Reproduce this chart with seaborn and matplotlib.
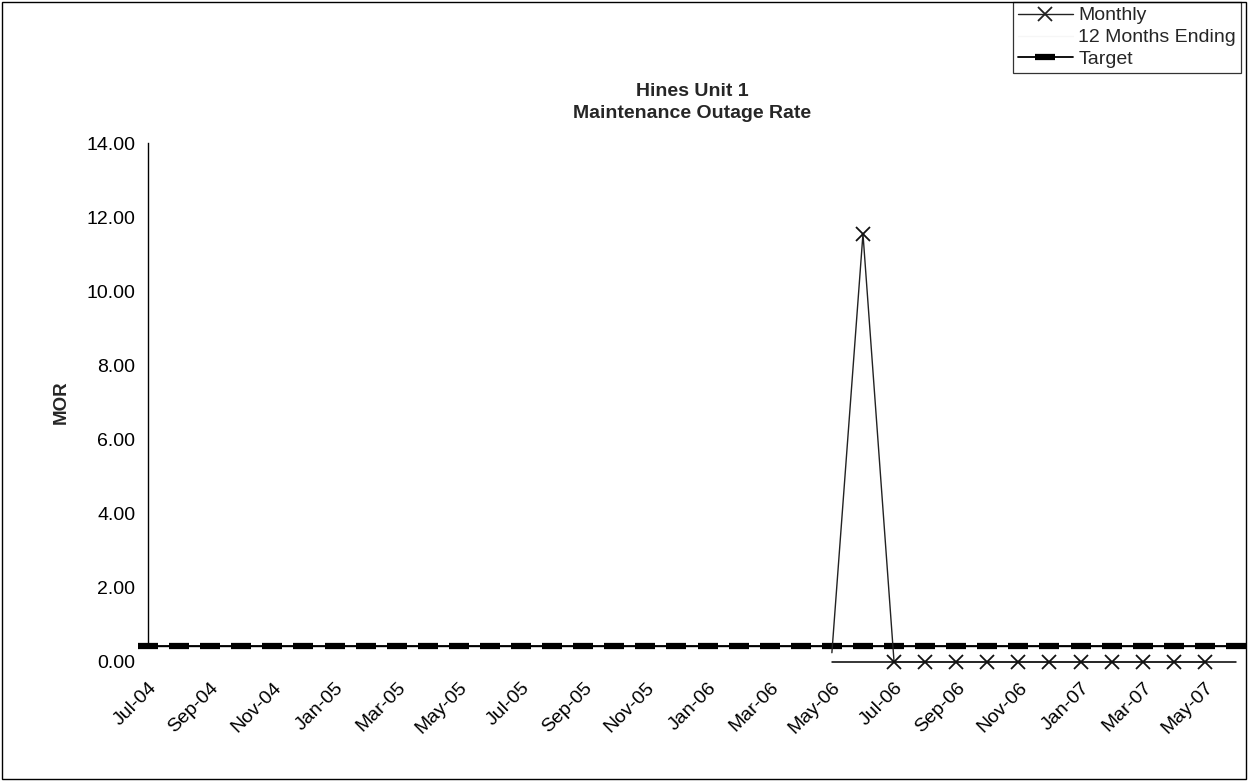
import numpy as np
import pandas as pd
import matplotlib
matplotlib.use('Agg')
import matplotlib.pyplot as plt
from matplotlib.lines import Line2D
from matplotlib.patches import Rectangle
import seaborn as sns

# month categories Jul-04 .. Jun-07
months = list(pd.date_range('2004-07-01', periods=36, freq='MS').strftime('%b-%y'))

# monthly MOR, May-06 .. May-07
monthly_months = ['May-06', 'Jun-06', 'Jul-06', 'Aug-06', 'Sep-06', 'Oct-06', 'Nov-06',
                  'Dec-06', 'Jan-07', 'Feb-07', 'Mar-07', 'Apr-07', 'May-07']
monthly_vals = [0.25, 11.55, 0.00, 0.00, 0.00, 0.00, 0.00, 0.00, 0.00, 0.00, 0.00, 0.00, 0.00]

# flat zero line under the monthly points, May-06 .. Jun-07
base_months = ['May-06', 'Jun-06', 'Jul-06', 'Aug-06', 'Sep-06', 'Oct-06', 'Nov-06',
               'Dec-06', 'Jan-07', 'Feb-07', 'Mar-07', 'Apr-07', 'May-07', 'Jun-07']
base_vals = [0.0] * len(base_months)

target_val = 0.44
target_vals = [target_val] * len(months)

yticks = [0, 2, 4, 6, 8, 10, 12, 14]

sns.set_style('white')
plt.rcParams['font.family'] = ['Liberation Sans', 'DejaVu Sans']

pos = {m: i for i, m in enumerate(months)}

fig = plt.figure(figsize=(12.48, 7.81), dpi=100)
ax = fig.add_axes([148 / 1248, 1 - 662 / 781, (1236 - 148) / 1248, (662 - 143) / 781])

# target line with dash markers
sns.lineplot(x=[pos[m] for m in months], y=target_vals, ax=ax, color='black', lw=1.3,
             marker='_', markersize=14, markeredgewidth=4.5, markeredgecolor='black',
             clip_on=False, zorder=3)

# zero line under monthly markers
sns.lineplot(x=[pos[m] for m in base_months], y=base_vals, ax=ax, color='black', lw=1.1,
             clip_on=False, zorder=2)

# monthly series
sns.lineplot(x=[pos[m] for m in monthly_months], y=monthly_vals, ax=ax, color='#222222', lw=1.0,
             marker='x', markersize=10, markeredgewidth=1.3, markeredgecolor='#111111',
             markevery=list(range(1, len(monthly_vals))), clip_on=False, zorder=4)

ax.set_xlim(0, len(months) - 1)
ax.set_ylim(0, 14)

for s in ['top', 'right']:
    ax.spines[s].set_visible(False)
ax.spines['bottom'].set_position(('data', target_val))
ax.spines['left'].set_bounds(target_val, 14)
for s in ['left', 'bottom']:
    ax.spines[s].set_color('black')
    ax.spines[s].set_linewidth(1.0)

ax.tick_params(axis='both', direction='inout', length=8, width=0.9, color='black',
               labelsize=14, labelcolor='black')
ax.tick_params(axis='y', pad=5)
ax.tick_params(axis='x', pad=20)

ax.set_yticks(yticks)
ax.set_yticklabels([f'{v:.2f}' for v in yticks])
ax.set_xticks(range(0, len(months), 2))
ax.set_xticklabels(months[::2])
plt.setp(ax.get_xticklabels(), rotation=45, ha='right', rotation_mode='anchor')
ax.yaxis.get_major_ticks()[0].tick1line.set_visible(False)

ax.set_ylabel('MOR', fontsize=13.5, fontweight='bold', labelpad=12)
ax.set_title('Hines Unit 1\nMaintenance Outage Rate', fontsize=14, fontweight='bold',
             pad=18, linespacing=1.4)

handles = [
    Line2D([], [], color='#222222', lw=1.0, marker='x', markersize=10, markeredgewidth=1.3),
    Line2D([], [], color='#f6f6f6', lw=1.0),
    Line2D([], [], color='black', lw=1.3, marker='_', markersize=14, markeredgewidth=4.5),
]
leg = ax.legend(handles, ['Monthly', '12 Months Ending', 'Target'], loc='upper right',
                bbox_to_anchor=(1241 / 1248, 1 - 2 / 781), bbox_transform=fig.transFigure,
                fontsize=14, frameon=True, fancybox=False, handlelength=2.8, borderpad=0.25,
                labelspacing=0.22, handletextpad=0.3, borderaxespad=0)
leg.get_frame().set_edgecolor('black')
leg.get_frame().set_linewidth(0.9)

fig.add_artist(Rectangle((0.002, 0.003), 0.996, 0.995, transform=fig.transFigure,
                         fill=False, lw=1.0, edgecolor='black'))

fig.savefig('out.png', dpi=100)
